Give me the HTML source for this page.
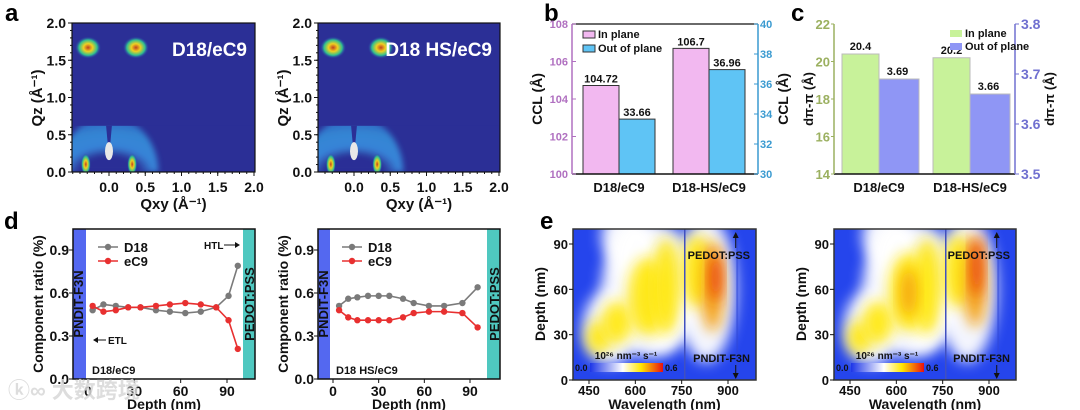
<!DOCTYPE html>
<html><head><meta charset="utf-8">
<style>
html,body{margin:0;padding:0;background:#fff;}
svg{display:block;font-family:"Liberation Sans","Noto Sans CJK SC",sans-serif;font-weight:bold;}
</style></head>
<body>
<svg id="fig" width="1080" height="410" viewBox="0 0 1080 410">
<defs>
<filter id="blur6" x="-50%" y="-50%" width="200%" height="200%"><feGaussianBlur stdDeviation="7"/></filter>
<filter id="blur3" x="-50%" y="-50%" width="200%" height="200%"><feGaussianBlur stdDeviation="3"/></filter>
<linearGradient id="cbar" x1="0" x2="1" y1="0" y2="0">
<stop offset="0" stop-color="#1c35e8"/><stop offset="0.45" stop-color="#ffffff"/><stop offset="0.7" stop-color="#ffe600"/><stop offset="1" stop-color="#e81010"/></linearGradient>
<radialGradient id="peak" cx="0.5" cy="0.5" r="0.5"><stop offset="0" stop-color="#c04020"/><stop offset="0.35" stop-color="#f0d020"/><stop offset="0.7" stop-color="#30c090"/><stop offset="1" stop-color="#2a3bb0" stop-opacity="0"/></radialGradient>
<radialGradient id="ringg" cx="0.5" cy="1" r="1"><stop offset="0" stop-color="#2b2f96"/><stop offset="0.3" stop-color="#2b2f96"/><stop offset="0.45" stop-color="#3a8ee0"/><stop offset="0.7" stop-color="#3590da"/><stop offset="1" stop-color="#2e5fc0"/></radialGradient>
<clipPath id="ce1"><rect x="573" y="229" width="183" height="151"/></clipPath>
<clipPath id="ce2"><rect x="834" y="229" width="182" height="151"/></clipPath>
<clipPath id="ca1"><rect x="72" y="23" width="183" height="149"/></clipPath>
<clipPath id="ca2"><rect x="318" y="23" width="182" height="149"/></clipPath>
</defs>
<g id="root"></g>
</svg>
<script>
// ---- data ----
const barCats = ["D18/eC9","D18-HS/eC9"];
const cclIn = [104.72,106.7];
const cclOut = [33.66,36.96];
const cclInLbl = ["104.72","106.7"];
const cclOutLbl = ["33.66","36.96"];
const dIn = [20.4,20.2];
const dOut = [3.69,3.66];
const dInLbl = ["20.4","20.2"];
const dOutLbl = ["3.69","3.66"];
const d1Depth = [3,10,18,26,34,44,53,63,73,83,91,97];
const d1D18 = [0.48,0.52,0.51,0.50,0.50,0.48,0.47,0.46,0.47,0.50,0.58,0.79];
const d1eC9 = [0.51,0.47,0.48,0.50,0.50,0.51,0.52,0.53,0.52,0.50,0.41,0.21];
const d2Depth = [4,10,16,23,30,37,46,53,63,73,85,95];
const d2D18 = [0.51,0.56,0.57,0.58,0.58,0.58,0.56,0.53,0.51,0.51,0.53,0.64];
const d2eC9 = [0.48,0.43,0.41,0.41,0.41,0.41,0.43,0.46,0.47,0.47,0.46,0.36];
// heatmap blobs: wavelength, depth, rx(nm), ry(depth nm), level
const e1Wl = [520,650,830,560,600,690,480,540,640,700,800,850,860];
const e1Dp = [35,60,60,95,80,40,28,38,55,62,72,62,68];
const e1Rx = [90,160,95,70,70,60,40,50,65,45,50,38,18];
const e1Ry = [25,45,48,18,24,20,11,14,26,32,24,30,16];
const e1Lv = [0.25,0.25,0.25,0.25,0.25,0.25,0.4,0.4,0.4,0.4,0.4,0.45,0.55];
const e2Wl = [520,650,830,560,600,690,480,540,640,700,800,855,860,640];
const e2Dp = [35,60,60,95,80,40,28,38,58,62,72,65,75,58];
const e2Rx = [90,160,95,70,70,60,40,50,65,45,50,38,18,25];
const e2Ry = [25,45,48,18,24,20,11,14,26,32,24,30,20,16];
const e2Lv = [0.25,0.25,0.25,0.25,0.25,0.25,0.4,0.4,0.42,0.4,0.4,0.45,0.6,0.5];

const NS="http://www.w3.org/2000/svg";
const root=document.getElementById('root');
function el(tag,attrs,parent,txt){const e=document.createElementNS(NS,tag);for(const k in attrs)e.setAttribute(k,attrs[k]);if(txt!==undefined)e.textContent=txt;(parent||root).appendChild(e);return e;}
function lin(d0,d1,r0,r1){return v=>r0+(v-d0)/(d1-d0)*(r1-r0);}
function txt(x,y,s,size,fill,anchor,name,rot){const t=el('text',{x:x,y:y,'font-size':size,fill:fill||'#111','text-anchor':anchor||'middle'},root,s);if(rot)t.setAttribute('transform',`rotate(-90 ${x} ${y})`);return t;}

txt(5,21,"a",24,'#000','start','panel-label-a');
txt(544,21,"b",24,'#000','start','panel-label-b');
txt(791,21,"c",24,'#000','start','panel-label-c');
txt(4,229,"d",24,'#000','start','panel-label-d');
txt(540,229,"e",24,'#000','start','panel-label-e');

// ---------- GIWAXS ----------
function giwaxs(x0,x1,zero,title,clip,name){
  const sx=lin(0,2,zero,x1-1);
  const sy=lin(0,2,172,23);
  const g=el('g',{'clip-path':`url(#${clip})`});
  el('rect',{x:x0,y:23,width:x1-x0,height:149,fill:'#2b2f96'},g);
  const rx=sx(0.68)-sx(0), ry=sy(0)-sy(0.75);
  el('path',{d:`M${sx(0)-rx} ${sy(0)} A${rx} ${ry} 0 0 1 ${sx(0)+rx} ${sy(0)} Z`,fill:'url(#ringg)',opacity:0.9,filter:'url(#blur3)'},g);
  el('rect',{x:x0,y:23,width:x1-x0,height:sy(0.62)-23,fill:'#2b2f96'},g);
  el('path',{d:`M${sx(-0.04)} ${sy(0.62)} L${sx(0.04)} ${sy(0.62)} L${sx(0.01)} ${sy(0.3)} L${sx(-0.01)} ${sy(0.3)}Z`,fill:'#2b2f96'},g);
  [[-0.32,0.05],[0.32,0.05]].forEach(p=>el('ellipse',{cx:sx(p[0]),cy:sy(p[1])-4,rx:5,ry:11,fill:'url(#peak)'},g));
  [[-0.33,1.67],[0.33,1.67]].forEach(p=>el('ellipse',{cx:sx(p[0])+3,cy:sy(p[1]),rx:13,ry:11,fill:'url(#peak)'},g));
  el('ellipse',{cx:sx(0),cy:sy(0.28),rx:4,ry:9,fill:'#e8e8e8'},g);
  el('rect',{x:x0,y:23,width:x1-x0,height:149,fill:'none',stroke:'#111','stroke-width':1.2},root);
  [0,0.5,1,1.5,2].forEach(v=>{el('line',{x1:x0-4,x2:x0,y1:sy(v),y2:sy(v),stroke:'#111'});txt(x0-6,sy(v)+5,v.toFixed(1),14,'#111','end',name+'-y-tick');});
  for(let v=0;v<=2.01;v+=0.1)el('line',{x1:x0-2,x2:x0,y1:sy(v),y2:sy(v),stroke:'#111'});
  [0,0.5,1,1.5,2].forEach(v=>{el('line',{x1:sx(v),x2:sx(v),y1:172,y2:176,stroke:'#111'});txt(sx(v),192,v.toFixed(1),14,'#111','middle',name+'-x-tick');});
  for(let v=-0.5;v<=2.01;v+=0.1)if(sx(v)>=x0)el('line',{x1:sx(v),x2:sx(v),y1:172,y2:174,stroke:'#111'});
  txt((x0+x1)/2+10,209,"Qxy (Å⁻¹)",15,'#111','middle',name+'-x-title');
  txt(x0-30,98,"Qz (Å⁻¹)",15,'#111','middle',name+'-y-title',true);
  txt(x1-8,56,title,19,'#fff','end',name+'-title');
}
giwaxs(72,255,109,"D18/eC9","ca1","giwaxs-d18");
giwaxs(318,500,354,"D18 HS/eC9","ca2","giwaxs-d18hs");

// ---------- bar chart b ----------
(function(){
  const x0=572,x1=758,yT=24,yB=174;
  const yL=lin(100,108,yB,yT), yR=lin(30,40,yB,yT);
  const starts=[583,673], w=36;
  barCats.forEach((c,i)=>{
    let r=el('rect',{x:starts[i],y:yL(cclIn[i]),width:w,height:yB-yL(cclIn[i]),fill:'#f2b8f0',stroke:'#333'});
    r=el('rect',{x:starts[i]+w,y:yR(cclOut[i]),width:w,height:yB-yR(cclOut[i]),fill:'#5fc4f5',stroke:'#333'});
    txt(starts[i]+w/2,yL(cclIn[i])-3,cclInLbl[i],11,'#111','middle','value-label');
    txt(starts[i]+w*1.5,yR(cclOut[i])-3,cclOutLbl[i],11,'#111','middle','value-label');
    txt(starts[i]+w,192,c,13,'#111','middle','x-tick-label');
  });
  el('line',{x1:x0,x2:x1,y1:yT,y2:yT,stroke:'#111','stroke-width':1.2});
  el('line',{x1:x0,x2:x1,y1:yB,y2:yB,stroke:'#111','stroke-width':1.5});
  el('line',{x1:x0,x2:x0,y1:yT,y2:yB,stroke:'#b070c0','stroke-width':1.5});
  el('line',{x1:x1,x2:x1,y1:yT,y2:yB,stroke:'#3a9ad0','stroke-width':1.5});
  [100,102,104,106,108].forEach(v=>{el('line',{x1:x0,x2:x0+4,y1:yL(v),y2:yL(v),stroke:'#b070c0'});txt(x0-4,yL(v)+4,v,11,'#b070c0','end','left-y-tick');});
  [30,32,34,36,38,40].forEach(v=>{el('line',{x1:x1-4,x2:x1,y1:yR(v),y2:yR(v),stroke:'#3a9ad0'});txt(x1+2,yR(v)+4,v,11,'#3a9ad0','start','right-y-tick');});
  txt(x0-30,99,"CCL (Å)",14,'#111','middle','y-axis-title-left',true);
  txt(788,99,"CCL (Å)",14,'#111','middle','y-axis-title-right',true);
  el('rect',{x:583,y:31,width:12,height:7,fill:'#f2b8f0',stroke:'#333'});txt(598,38,"In plane",11,'#111','start','legend-in-plane');
  el('rect',{x:583,y:45,width:12,height:7,fill:'#5fc4f5',stroke:'#333'});txt(598,52,"Out of plane",11,'#111','start','legend-out-of-plane');
})();

// ---------- bar chart c ----------
(function(){
  const x0=834,x1=1015,yT=24,yB=174;
  const yL=lin(14,22,yB,yT), yR=lin(3.5,3.8,yB,yT);
  const starts=[842,933], w=37;
  barCats.forEach((c,i)=>{
    let r=el('rect',{x:starts[i],y:yL(dIn[i]),width:w,height:yB-yL(dIn[i]),fill:'#c8f29a',stroke:'#bbb'});
    r=el('rect',{x:starts[i]+w,y:yR(dOut[i]),width:w+3,height:yB-yR(dOut[i]),fill:'#8f96f5',stroke:'#bbb'});
    txt(starts[i]+w/2,yL(dIn[i])-4,dInLbl[i],11,'#111','middle','value-label');
    txt(starts[i]+w*1.5,yR(dOut[i])-4,dOutLbl[i],11,'#111','middle','value-label');
    txt(starts[i]+w,192,c,13,'#111','middle','x-tick-label');
  });
  el('line',{x1:x0,x2:x1,y1:yB,y2:yB,stroke:'#111','stroke-width':1.5});
  el('line',{x1:x0,x2:x0,y1:yT,y2:yB,stroke:'#9bb060','stroke-width':1.5});
  el('line',{x1:x1,x2:x1,y1:yT,y2:yB,stroke:'#7070d0','stroke-width':1.5});
  [14,16,18,20,22].forEach(v=>{el('line',{x1:x0-3,x2:x0,y1:yL(v),y2:yL(v),stroke:'#9bb060'});txt(x0-4,yL(v)+5,v,13,'#9bb060','end','left-y-tick');});
  [3.5,3.6,3.7,3.8].forEach(v=>{el('line',{x1:x1,x2:x1+4,y1:yR(v),y2:yR(v),stroke:'#7070d0'});txt(x1+6,yR(v)+5,v.toFixed(1),14,'#7070d0','start','right-y-tick');});
  txt(813,99,"dπ-π (Å)",13,'#111','middle','y-axis-title-left',true);
  txt(1054,99,"dπ-π (Å)",13,'#111','middle','y-axis-title-right',true);
  el('rect',{x:950,y:30,width:12,height:7,fill:'#c8f29a'});txt(965,37,"In plane",11,'#111','start','legend-in-plane');
  el('rect',{x:950,y:43,width:12,height:7,fill:'#8f96f5'});txt(965,50,"Out of plane",11,'#111','start','legend-out-of-plane');
})();

// ---------- line charts d ----------
function lineChart(x0,x1,zero,x90,depth,d18,ec9,blueEnd,tealStart,label,name,arrows){
  const yT=229,yB=379;
  const sx=lin(0,90,zero,x90), sy=lin(0,0.9,yB,250);
  el('rect',{x:x0,y:yT,width:blueEnd-x0,height:yB-yT,fill:'#5468f0'});
  el('rect',{x:tealStart,y:yT,width:x1-tealStart,height:yB-yT,fill:'#4fc8c0'});
  el('rect',{x:x0,y:yT,width:x1-x0,height:yB-yT,fill:'none',stroke:'#111','stroke-width':1.5});
  txt(x0+10,304,"PNDIT-F3N",13,'#111','middle',name+'-etl-label',true);
  txt(x1-1,304,"PEDOT:PSS",13,'#111','middle',name+'-htl-label',true);
  [[d18,'#7a7a7a','D18'],[ec9,'#e83030','eC9']].forEach(s=>{
    const pts=depth.map((d,i)=>sx(d)+','+sy(s[0][i])).join(' ');
    const p=el('polyline',{points:pts,fill:'none',stroke:s[1],'stroke-width':1.6});
    depth.forEach((d,i)=>{const c=el('circle',{cx:sx(d),cy:sy(s[0][i]),r:3.2,fill:s[1]});});
  });
  [0,0.3,0.6,0.9].forEach(v=>{el('line',{x1:x0-4,x2:x0,y1:sy(v),y2:sy(v),stroke:'#111'});txt(x0-4,sy(v)+5,v.toFixed(1),14,'#111','end',name+'-y-tick');});
  [0,30,60,90].forEach(v=>{el('line',{x1:sx(v),x2:sx(v),y1:yB,y2:yB+4,stroke:'#111'});txt(sx(v),396,v,14,'#111','middle',name+'-x-tick');});
  txt((x0+x1)/2,409,"Depth (nm)",14,'#111','middle',name+'-x-title');
  txt(x0-30,304,"Component ratio (%)",14,'#111','middle',name+'-y-title',true);
  const lx=blueEnd+12;
  el('line',{x1:lx,x2:lx+20,y1:247,y2:247,stroke:'#7a7a7a','stroke-width':1.6});el('circle',{cx:lx+10,cy:247,r:3.2,fill:'#7a7a7a'});txt(lx+26,252,"D18",13,'#111','start',name+'-legend-d18');
  el('line',{x1:lx,x2:lx+20,y1:261,y2:261,stroke:'#e83030','stroke-width':1.6});el('circle',{cx:lx+10,cy:261,r:3.2,fill:'#e83030'});txt(lx+26,266,"eC9",13,'#111','start',name+'-legend-ec9');
  txt(blueEnd+6,374,label,11,'#111','start',name+'-sample-label');
  if(arrows){
    txt(204,249,"HTL",10,'#111','start','htl-label');el('line',{x1:224,x2:238,y1:245,y2:245,stroke:'#111'});el('path',{d:'M240 245 l-5 -3 v6z',fill:'#111'});
    el('line',{x1:96,x2:106,y1:340,y2:340,stroke:'#111'});el('path',{d:'M93 340 l5 -3 v6z',fill:'#111'});txt(108,344,"ETL",10,'#111','start','etl-label');
  }
}
lineChart(73,255,88,227,d1Depth,d1D18,d1eC9,86,243,"D18/eC9","profile-d18",true);
lineChart(318,500,333,470,d2Depth,d2D18,d2eC9,330,487,"D18 HS/eC9","profile-d18hs",false);

// ---------- heatmaps e ----------
function heat(x0,x1,clip,wl,dp,rx,ry,lv,name){
  const yT=229,yB=380;
  const sx=lin(450,900,x0+16,x0+155), sy=lin(0,90,yB,244);
  const kx=(sx(900)-sx(450))/450, ky=(sy(0)-sy(90))/90;
  const g=el('g',{'clip-path':`url(#${clip})`});
  el('rect',{x:x0,y:yT,width:x1-x0,height:yB-yT,fill:'#2545ec'},g);
  const col=l=>l<0.3?'#ffffff':(l<0.45?'#ffe818':(l<0.52?'#f5a010':'#e83010'));
  wl.forEach((w,i)=>{const e=el('ellipse',{cx:sx(w),cy:sy(dp[i]),rx:rx[i]*kx,ry:ry[i]*ky,fill:col(lv[i]),filter:'url(#blur6)',opacity:0.95},g);});
  el('line',{x1:sx(760),x2:sx(760),y1:yT,y2:yB,stroke:'#4050c0','stroke-width':1.5},g);
  el('line',{x1:sx(930),x2:sx(930),y1:yT,y2:yB,stroke:'#3048d8','stroke-width':2,opacity:0.6},g);
  el('rect',{x:x0,y:yT,width:x1-x0,height:yB-yT,fill:'none',stroke:'#333','stroke-width':1.5});
  [0,30,60,90].forEach(v=>{el('line',{x1:x0-4,x2:x0,y1:sy(v),y2:sy(v),stroke:'#111'});txt(x0-5,sy(v)+5,v,13,'#111','end',name+'-y-tick');});
  [450,600,750,900].forEach(v=>{el('line',{x1:sx(v),x2:sx(v),y1:yB,y2:yB+4,stroke:'#111'});txt(sx(v),395,v,13,'#111','middle',name+'-x-tick');});
  txt((x0+x1)/2,409,"Wavelength (nm)",14,'#111','middle',name+'-x-title');
  txt(x0-28,304,"Depth (nm)",14,'#111','middle',name+'-y-title',true);
  const cb=el('rect',{x:x0+17,y:363,width:73,height:9,fill:'url(#cbar)'});
  txt(x0+2,371,"0.0",9,'#111','start','colorbar-min');txt(x0+92,371,"0.6",9,'#111','start','colorbar-max');
  txt(x0+53,359,"10²⁶ nm⁻³ s⁻¹",10,'#111','middle','colorbar-unit');
  txt(x1-6,259,"PEDOT:PSS",11,'#111','end',name+'-pedot-label');
  txt(x1-6,362,"PNDIT-F3N",11,'#111','end',name+'-pndit-label');
  const ax=sx(925);
  el('line',{x1:ax,x2:ax,y1:236,y2:248,stroke:'#111'});el('path',{d:`M${ax} 232 l-3 6 h6z`,fill:'#111'});
  el('line',{x1:ax,x2:ax,y1:365,y2:376,stroke:'#111'});el('path',{d:`M${ax} 379 l-3 -6 h6z`,fill:'#111'});
}
heat(573,756,"ce1",e1Wl,e1Dp,e1Rx,e1Ry,e1Lv,"absorption-d18");
heat(834,1016,"ce2",e2Wl,e2Dp,e2Rx,e2Ry,e2Lv,"absorption-d18hs");

const wm=txt(8,398,"ⓚ∞ 大数跨境",22,'#d8d8d8','start','watermark');
wm.setAttribute('opacity','0.85');
</script>
</body></html>
